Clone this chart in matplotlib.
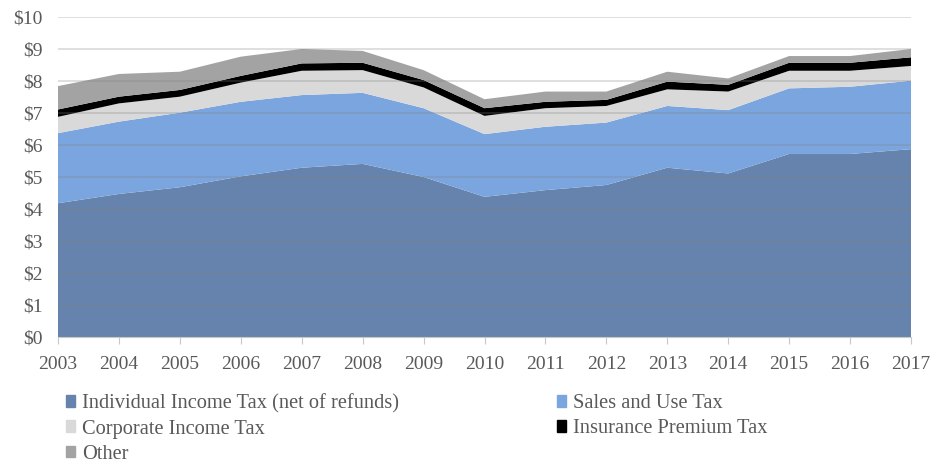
import matplotlib
matplotlib.use("Agg")
import matplotlib.pyplot as plt
from matplotlib.patches import Patch
import numpy as np

years = list(range(2003, 2018))
individual = [4.18, 4.47, 4.68, 5.02, 5.29, 5.41, 5.00, 4.38, 4.59, 4.75, 5.29, 5.11, 5.72, 5.72, 5.87]
sales = [2.19, 2.26, 2.33, 2.33, 2.27, 2.22, 2.15, 1.96, 1.98, 1.95, 1.93, 1.98, 2.05, 2.10, 2.14]
corporate = [0.51, 0.57, 0.50, 0.60, 0.76, 0.71, 0.65, 0.57, 0.58, 0.52, 0.52, 0.58, 0.55, 0.50, 0.46]
insurance = [0.23, 0.21, 0.21, 0.21, 0.23, 0.23, 0.23, 0.24, 0.20, 0.19, 0.24, 0.21, 0.25, 0.25, 0.27]
other = [0.73, 0.71, 0.57, 0.60, 0.45, 0.37, 0.31, 0.28, 0.32, 0.26, 0.31, 0.20, 0.21, 0.21, 0.26]
labels = ["Individual Income Tax (net of refunds)", "Sales and Use Tax",
          "Corporate Income Tax", "Insurance Premium Tax", "Other"]
yticks = list(range(0, 11))
ytick_labels = ["$%d" % v for v in yticks]

colors = ["#6583AD", "#7BA5DE", "#D9D9D9", "#000000", "#A3A3A3"]

plt.rcParams['font.family'] = ['Liberation Serif', 'DejaVu Serif']

fig = plt.figure(figsize=(9.43, 4.65), dpi=100)
ax = fig.add_axes([58/943, 1-337/465, (911-58)/943, (337-17)/465])

ax.stackplot(years, individual, sales, corporate, insurance, other,
             colors=colors, linewidth=0)

ax.set_xlim(2003, 2017)
ax.set_ylim(0, 10)
ax.set_yticks(yticks)
ax.set_yticklabels(ytick_labels)
ax.set_xticks(years)
ax.set_xticklabels([str(y) for y in years])
for yv in yticks[1:]:
    ax.axhline(yv, color="#808080", alpha=0.3, lw=1.2, zorder=3)

for s in ["top", "right", "left"]:
    ax.spines[s].set_visible(False)
ax.spines["bottom"].set_color("#C8C8C8")
ax.tick_params(axis="y", length=0, labelsize=14, colors="#595959", pad=11)
ax.tick_params(axis="x", length=5, color="#C8C8C8", labelsize=14, labelcolor="#595959", pad=9)

handles = [Patch(color=c) for c in colors]
common = dict(loc="upper left", frameon=False, fontsize=14.7, handlelength=0.43,
              handleheight=0.5, handletextpad=0.35, labelspacing=0.3,
              borderpad=0, borderaxespad=0, labelcolor="#595959")
leg1 = fig.legend([handles[i] for i in [0, 2, 4]], [labels[i] for i in [0, 2, 4]],
                  bbox_to_anchor=(66/943, 1-394/465), **common)
leg2 = fig.legend([handles[i] for i in [1, 3]], [labels[i] for i in [1, 3]],
                  bbox_to_anchor=(557/943, 1-394/465), **common)

fig.savefig("out.png", dpi=100)
